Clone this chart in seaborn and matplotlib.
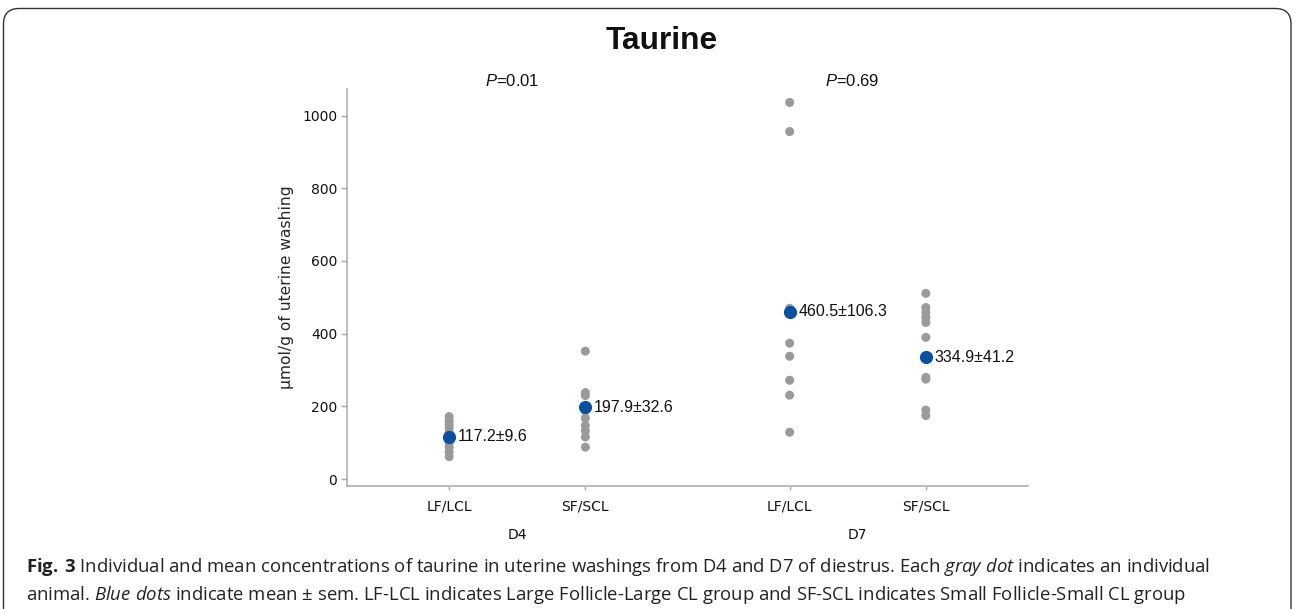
import numpy as np
import pandas as pd
import matplotlib
matplotlib.use("Agg")
import matplotlib.pyplot as plt
import seaborn as sns
from matplotlib.patches import FancyBboxPatch
from matplotlib.transforms import blended_transform_factory

# ---------------- data ----------------
days = ["D4", "D7"]
groups = ["LF/LCL", "SF/SCL"]
d4_lflcl = [172, 160, 150, 140, 128, 112, 100, 88, 75, 62]
d4_sfscl = [352, 238, 230, 188, 168, 148, 133, 116, 88]
d7_lflcl = [1036, 956, 470, 374, 338, 272, 231, 129]
d7_sfscl = [511, 472, 458, 445, 431, 390, 280, 275, 190, 175]
mean_vals = [117.2, 197.9, 460.5, 334.9]
sem_vals = [9.6, 32.6, 106.3, 41.2]
p_values = ["0.01", "0.69"]
y_ticks = [0, 200, 400, 600, 800, 1000]
title = "Taurine"
y_label = "µmol/g of uterine washing"
caption_1 = (r"$\bf{Fig.\:3}$ Individual and mean concentrations of taurine in uterine washings "
             r"from D4 and D7 of diestrus. Each $\it{gray\ dot}$ indicates an individual")
caption_2 = (r"animal. $\it{Blue\ dots}$ indicate mean ± sem. LF-LCL indicates Large Follicle-Large CL "
             r"group and SF-SCL indicates Small Follicle-Small CL group")

rows = []
for day, group, vals in [("D4", "LF/LCL", d4_lflcl), ("D4", "SF/SCL", d4_sfscl),
                         ("D7", "LF/LCL", d7_lflcl), ("D7", "SF/SCL", d7_sfscl)]:
    for v in vals:
        rows.append({"day": day, "group": group, "value": v})
df = pd.DataFrame(rows)
mdf = pd.DataFrame({"day": ["D4", "D4", "D7", "D7"], "group": groups * 2,
                    "mean": mean_vals, "sem": sem_vals})

# ---------------- style ----------------
sns.set_theme(style="ticks")
plt.rcParams.update({
    "font.family": ["DejaVu Sans"],
    "mathtext.fontset": "custom",
    "mathtext.it": "Open Sans:italic",
    "mathtext.rm": "Open Sans",
    "mathtext.bf": "Open Sans:bold",
    "mathtext.sf": "Liberation Sans:italic",
})
gray = "#9a9a9a"
blue = "#0b4fa3"
spine_c = "#a8a8a8"
txt_c = "#111111"

W, H = 1295, 609
fig = plt.figure(figsize=(W / 100, H / 100), dpi=100)
ax = fig.add_axes([347 / W, 123.3 / H, 681 / W, 396.7 / H])

sns.stripplot(data=df, x="day", y="value", hue="group", order=days, hue_order=groups,
              dodge=True, jitter=False, palette=[gray, gray], size=6.5, linewidth=0,
              legend=False, ax=ax, zorder=2)
sns.stripplot(data=mdf, x="day", y="mean", hue="group", order=days, hue_order=groups,
              dodge=True, jitter=False, palette=[blue, blue], size=9.5, linewidth=0,
              legend=False, ax=ax, zorder=3)

offsets = [-0.2, 0.2]
for _, r in mdf.iterrows():
    xpos = days.index(r["day"]) + offsets[groups.index(r["group"])]
    ax.annotate(f"{r['mean']}±{r['sem']}", (xpos, r["mean"]), xytext=(6.3, 0),
                textcoords="offset points", ha="left", va="center",
                fontfamily="Liberation Sans", fontsize=11.5, color=txt_c, zorder=4)

ax.set_xlim(-0.5, 1.5)
ax.set_ylim(-18, 1073)
ax.set_yticks(y_ticks)
ax.set_xticks([d + o for d in range(len(days)) for o in offsets])
ax.set_xticklabels(groups * len(days))
ax.set_xlabel("")
ax.set_ylabel(y_label, fontsize=11.2, labelpad=6)
ax.tick_params(axis="y", length=4, width=1, color=spine_c, pad=3, labelsize=10, labelcolor=txt_c)
ax.tick_params(axis="x", length=3, width=1, color=spine_c, pad=7, labelsize=10, labelcolor=txt_c)
for s in ["top", "right"]:
    ax.spines[s].set_visible(False)
for s in ["left", "bottom"]:
    ax.spines[s].set_color(spine_c)
    ax.spines[s].set_linewidth(1.1)

btrans = blended_transform_factory(ax.transData, ax.transAxes)
for i, d in enumerate(days):
    ax.text(i, -0.1255, d, transform=btrans, ha="center", va="center", fontsize=10, color=txt_c)
    ax.text(i - 0.015, 1.0076, rf"$\mathsf{{P}}$={p_values[i]}", transform=btrans, ha="center",
            va="baseline", fontfamily="Liberation Sans", fontsize=12, color=txt_c)

fig.text(662 / W, 1 - 49 / H, title, ha="center", va="baseline", fontsize=22.8,
         fontweight="bold", fontfamily="Liberation Sans", color=txt_c)

# caption
fig.text(26 / W, 1 - 572 / H, caption_1, ha="left", va="baseline", fontsize=13.3,
         fontfamily="Open Sans", color="#222222")
fig.text(26 / W, 1 - 600 / H, caption_2, ha="left", va="baseline", fontsize=13.3,
         fontfamily="Open Sans", color="#222222")

# border box
box = FancyBboxPatch((3.5 / W, -20 / H), (1291 - 3.5) / W, (H + 20 - 8.5) / H,
                     boxstyle="round,pad=0,rounding_size=0.012", transform=fig.transFigure,
                     fill=False, edgecolor="#333333", linewidth=1.0, mutation_aspect=W / H)
fig.patches.append(box)

fig.savefig("out.png", dpi=100)
